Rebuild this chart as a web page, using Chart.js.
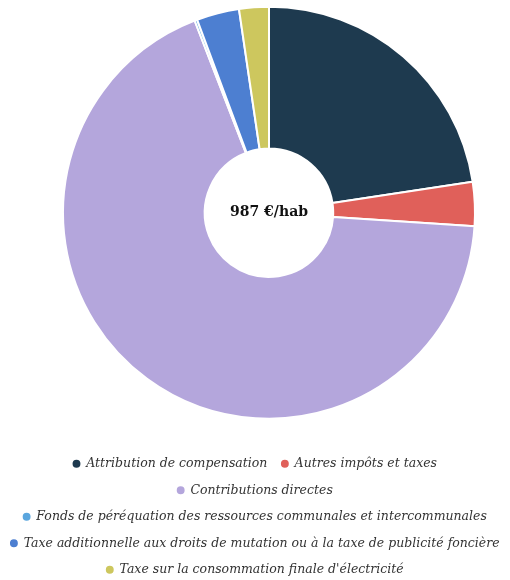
<!DOCTYPE html>
<html>
<head>
<meta charset="utf-8">
<script src="https://cdn.jsdelivr.net/npm/chart.js@4"></script>
<style>
  html, body { margin: 0; padding: 0; background: #fff; }
  #wrap { width: 510px; height: 580px; }
</style>
</head>
<body>
<div id="wrap"><canvas id="donut"></canvas></div>
<script>
// recettes fiscales par habitant
const labels = [
  "Attribution de compensation",
  "Autres impôts et taxes",
  "Contributions directes",
  "Fonds de péréquation des ressources communales et intercommunales",
  "Taxe additionnelle aux droits de mutation ou à la taxe de publicité foncière",
  "Taxe sur la consommation finale d'électricité"
];
const values = [223, 34, 672, 2, 33, 23];
const colors = ["#1e3a4f", "#e0605a", "#b4a6dc", "#5aa6de", "#4d7fd1", "#cdc75e"];
const centerText = "987 €/hab";

// décale le donut dans sa zone (le donut est un peu à droite et plus haut que la légende)
const shiftArea = {
  id: "shiftArea",
  afterLayout(chart) {
    const a = chart.chartArea;
    a.left += 28;
    a.width -= 28;
    a.bottom -= 18;
    a.height -= 18;
  }
};

const centerLabel = {
  id: "centerLabel",
  afterDraw(chart) {
    const arc = chart.getDatasetMeta(0).data[0];
    if (!arc) return;
    const ctx = chart.ctx;
    ctx.save();
    ctx.font = "bold 14px 'DejaVu Serif', serif";
    ctx.fillStyle = "#111";
    ctx.textAlign = "center";
    ctx.textBaseline = "middle";
    ctx.fillText(centerText, arc.x, arc.y);
    ctx.restore();
  }
};

new Chart(document.getElementById("donut"), {
  type: "doughnut",
  data: {
    labels: labels,
    datasets: [{
      data: values,
      backgroundColor: colors,
      borderColor: "#fff",
      borderWidth: 2
    }]
  },
  options: {
    responsive: true,
    maintainAspectRatio: false,
    animation: false,
    radius: 206,
    cutout: 66,
    layout: { padding: { bottom: -6 } },
    plugins: {
      tooltip: { enabled: false },
      legend: {
        position: "bottom",
        labels: {
          usePointStyle: true,
          pointStyle: "circle",
          boxWidth: 7,
          boxHeight: 7,
          padding: 14,
          color: "#333",
          font: { size: 12.5, style: "italic", family: "'DejaVu Serif', serif" }
        }
      }
    }
  },
  plugins: [shiftArea, centerLabel]
});
</script>
</body>
</html>
